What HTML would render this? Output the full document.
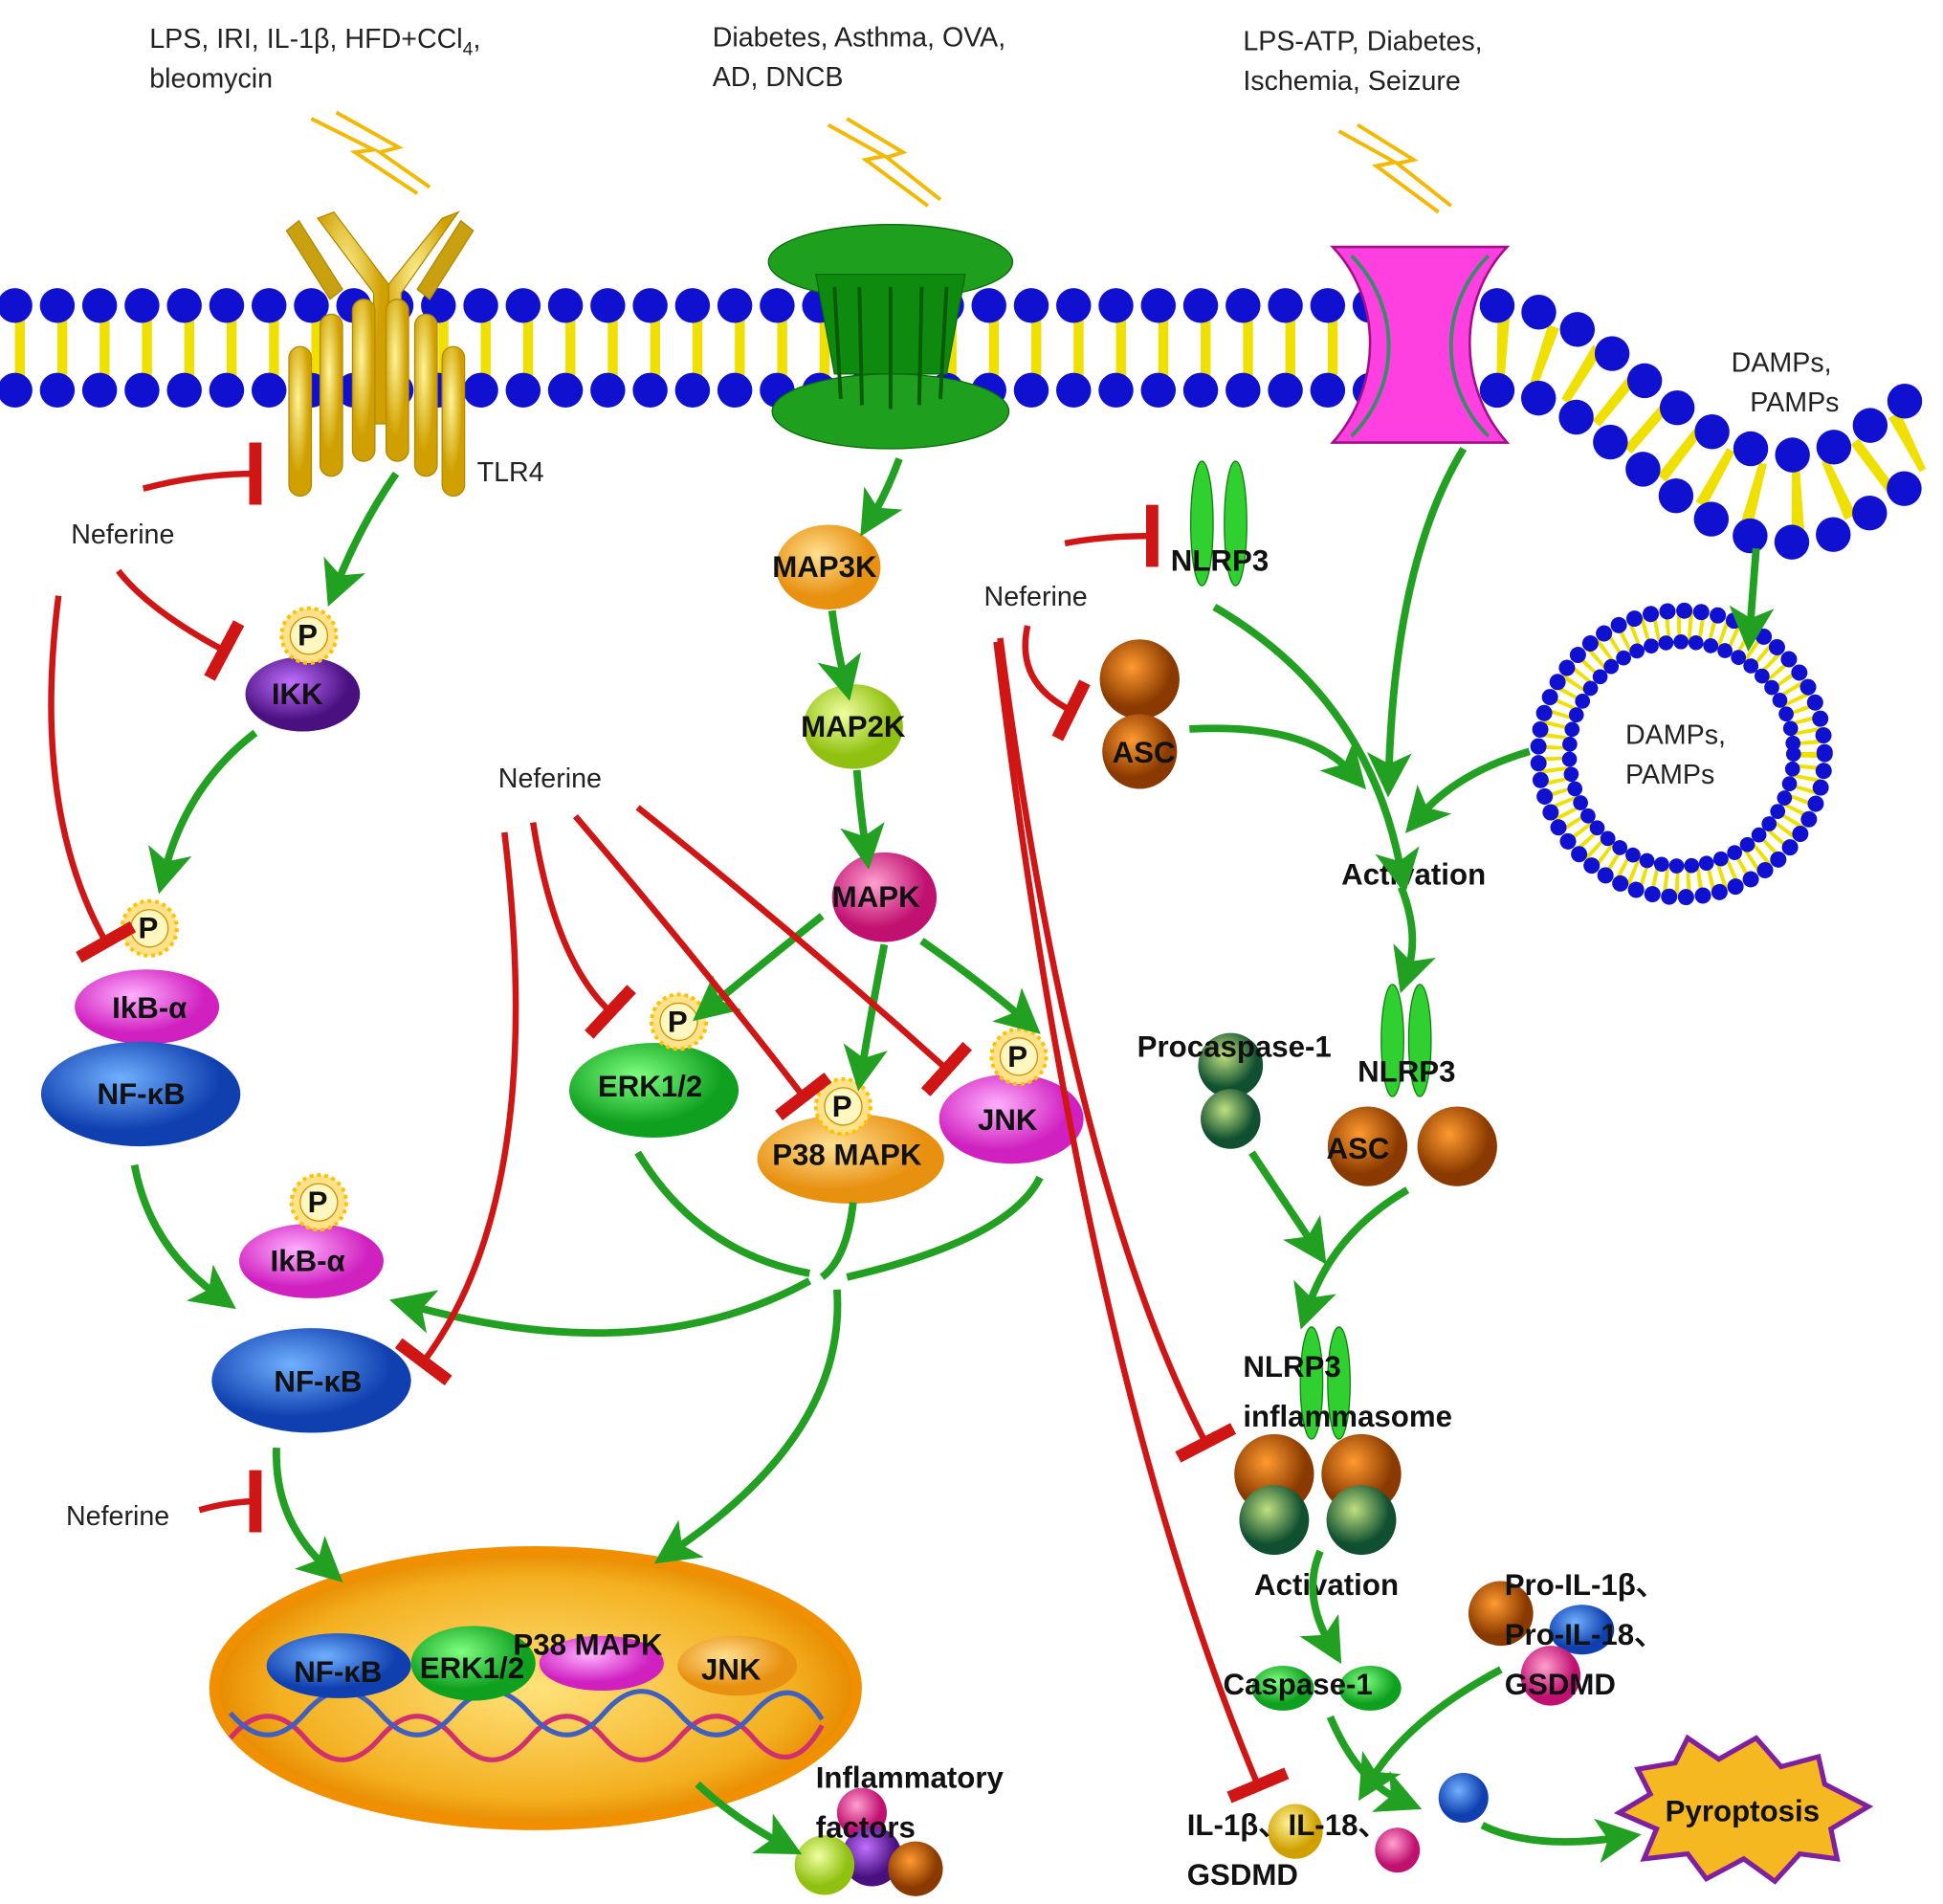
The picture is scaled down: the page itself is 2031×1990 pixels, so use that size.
<!DOCTYPE html>
<html><head><meta charset="utf-8"><style>
html,body{margin:0;padding:0;background:#fff;}
svg{display:block;}
text{font-family:"Liberation Sans",sans-serif;}
.l{font-size:22px;fill:#222;}
.b{font-size:24px;font-weight:bold;fill:#111;}
.g{stroke:#22a022;stroke-width:6;fill:none;marker-end:url(#ah);}
.r{stroke:#d01515;stroke-width:5;fill:none;marker-end:url(#tb);}
</style></head><body>
<svg width="2031" height="1990" viewBox="0 0 1560 1528" xmlns="http://www.w3.org/2000/svg">
<defs>
<marker id="ah" markerWidth="6" markerHeight="6" refX="3" refY="3" orient="auto" markerUnits="strokeWidth"><path d="M0,0 L6,3 L0,6 L1.5,3z" fill="#22a022"/></marker>
<marker id="tb" markerWidth="2" markerHeight="10" refX="1" refY="5" orient="auto" markerUnits="strokeWidth"><rect x="0" y="0" width="2" height="10" fill="#d01515"/></marker>
<radialGradient id="gy" cx="40%" cy="35%"><stop offset="0" stop-color="#fff59a"/><stop offset="1" stop-color="#d0a000"/></radialGradient>
<radialGradient id="gg" cx="40%" cy="35%"><stop offset="0" stop-color="#80ff80"/><stop offset="1" stop-color="#10a020"/></radialGradient>
<radialGradient id="gp" cx="40%" cy="35%"><stop offset="0" stop-color="#ffb0ff"/><stop offset="1" stop-color="#d020c0"/></radialGradient>
<radialGradient id="gb" cx="40%" cy="35%"><stop offset="0" stop-color="#70b0ff"/><stop offset="1" stop-color="#1040b0"/></radialGradient>
<radialGradient id="go" cx="40%" cy="35%"><stop offset="0" stop-color="#ffe090"/><stop offset="1" stop-color="#e89010"/></radialGradient>
<radialGradient id="gpu" cx="40%" cy="35%"><stop offset="0" stop-color="#c070ff"/><stop offset="1" stop-color="#4a1080"/></radialGradient>
<radialGradient id="gl" cx="40%" cy="35%"><stop offset="0" stop-color="#f0ffa0"/><stop offset="1" stop-color="#90c010"/></radialGradient>
<radialGradient id="gm" cx="40%" cy="35%"><stop offset="0" stop-color="#ffa0d0"/><stop offset="1" stop-color="#c01070"/></radialGradient>
<radialGradient id="gbr" cx="40%" cy="35%"><stop offset="0" stop-color="#ff9a30"/><stop offset="1" stop-color="#8a3a00"/></radialGradient>
<radialGradient id="gdg" cx="40%" cy="35%"><stop offset="0" stop-color="#c0e080"/><stop offset="1" stop-color="#105030"/></radialGradient>
<radialGradient id="gnuc" cx="50%" cy="50%"><stop offset="0" stop-color="#ffe27a"/><stop offset="0.8" stop-color="#f3b020"/><stop offset="1" stop-color="#e88a00"/></radialGradient>
</defs>

<!-- membrane -->
<g fill="none">
<path d="M12,279 L1200,279 C1300,279 1340,400 1440,400 C1490,400 1510,360 1545,350" stroke="#f0e000" stroke-width="50" stroke-dasharray="8 26"/>
<path d="M12,245 L1200,245 C1300,245 1340,365 1440,365 C1490,365 1510,325 1545,315" stroke="#1010d0" stroke-width="28" stroke-linecap="round" stroke-dasharray="0 34"/>
<path d="M12,313 L1200,313 C1290,313 1340,435 1440,435 C1490,435 1510,395 1545,385" stroke="#1010d0" stroke-width="28" stroke-linecap="round" stroke-dasharray="0 34"/>
</g>

<!-- lightning -->
<g stroke="#f5b800" stroke-width="3" fill="none">
<path d="M250,95 L300,120 L285,122 L335,155"/><path d="M270,90 L320,118 L305,122 L345,150"/>
<path d="M665,100 L710,125 L695,128 L745,165"/><path d="M680,95 L725,122 L712,126 L755,160"/>
<path d="M1075,105 L1120,130 L1105,133 L1155,170"/><path d="M1090,100 L1135,128 L1122,131 L1165,165"/>
</g>

<!-- top texts -->
<text class="l" x="120" y="38">LPS, IRI, IL-1β, HFD+CCl<tspan font-size="15" dy="6">4</tspan><tspan dy="-6">,</tspan></text>
<text class="l" x="120" y="70">bleomycin</text>
<text class="l" x="572" y="37">Diabetes, Asthma, OVA,</text>
<text class="l" x="572" y="69">AD, DNCB</text>
<text class="l" x="998" y="40">LPS-ATP, Diabetes,</text>
<text class="l" x="998" y="72">Ischemia, Seizure</text>
<text class="l" x="1390" y="298">DAMPs,</text>
<text class="l" x="1405" y="330">PAMPs</text>

<!-- TLR4 -->
<g stroke="#b08a00" stroke-width="1" fill="url(#gy)">
<path d="M230,185 L265,240 L275,232 L240,177z" fill="#c8a010"/>
<path d="M380,185 L345,240 L335,232 L370,177z" fill="#c8a010"/>
<path d="M255,175 L300,235 L300,340 L312,340 L312,228 L268,170z"/>
<path d="M355,175 L312,228 L312,340 L322,340 L322,235 L368,170z"/>
<rect x="232" y="278" width="18" height="120" rx="9"/>
<rect x="257" y="252" width="18" height="130" rx="9"/>
<rect x="283" y="240" width="18" height="130" rx="9"/>
<rect x="310" y="240" width="18" height="130" rx="9"/>
<rect x="333" y="252" width="18" height="130" rx="9"/>
<rect x="355" y="278" width="18" height="120" rx="9"/>
</g>
<text class="l" x="383" y="386">TLR4</text>

<!-- green channel -->
<g fill="#1ea01e" stroke="#0a6a0a" stroke-width="1">
<ellipse cx="715" cy="210" rx="98" ry="30"/>
<path d="M655,220 L775,220 L760,300 L670,300z" fill="#0e8a0e"/>
<ellipse cx="715" cy="330" rx="95" ry="30"/>
<g stroke="#085a08" stroke-width="3"><line x1="670" y1="230" x2="675" y2="320"/><line x1="690" y1="230" x2="692" y2="325"/><line x1="715" y1="230" x2="715" y2="328"/><line x1="740" y1="230" x2="738" y2="325"/><line x1="760" y1="230" x2="755" y2="320"/></g>
</g>

<!-- pink channel -->
<g fill="#ff40e0" stroke="#a0108a" stroke-width="2">
<path d="M1070,198 L1210,198 C1170,240 1170,310 1210,355 L1070,355 C1110,310 1110,240 1070,198z"/>
</g>
<path d="M1085,205 C1125,245 1125,310 1085,350 M1195,205 C1155,245 1155,310 1195,350" stroke="#3a8a6a" stroke-width="3" fill="none"/>

<!-- vesicle -->
<circle cx="1350" cy="605" r="102" fill="none" stroke="#f0e000" stroke-width="24" stroke-dasharray="3 6"/>
<circle cx="1350" cy="605" r="115" fill="none" stroke="#1010d0" stroke-width="13" stroke-dasharray="0.1 13.5" stroke-linecap="round"/>
<circle cx="1350" cy="605" r="90" fill="none" stroke="#1010d0" stroke-width="12" stroke-dasharray="0.1 12" stroke-linecap="round"/>
<text class="l" x="1305" y="597">DAMPs,</text>
<text class="l" x="1305" y="629">PAMPs</text>

<!-- nucleus -->
<ellipse cx="430" cy="1355" rx="258" ry="110" fill="url(#gnuc)" stroke="#f09000" stroke-width="8"/>
<g fill="none" stroke-width="4">
<path d="M185,1395 Q215,1360 245,1395 T305,1395 T365,1395 T425,1395 T485,1395 T545,1395 T605,1395 T660,1385" stroke="#d03070"/>
<path d="M185,1375 Q215,1410 245,1375 T305,1375 T365,1375 T425,1375 T485,1375 T545,1375 T605,1375 T660,1380" stroke="#4060c0"/>
</g>
<ellipse cx="272" cy="1337" rx="58" ry="26" fill="url(#gb)"/>
<ellipse cx="380" cy="1335" rx="50" ry="30" fill="url(#gg)"/>
<ellipse cx="483" cy="1335" rx="50" ry="22" fill="url(#gp)"/>
<ellipse cx="592" cy="1337" rx="48" ry="24" fill="url(#go)"/>
<text class="b" x="236" y="1350">NF-κB</text>
<text class="b" x="337" y="1347">ERK1/2</text>
<text class="b" x="412" y="1328">P38 MAPK</text>
<text class="b" x="563" y="1348">JNK</text>

<!-- left pathway nodes -->
<ellipse cx="243" cy="557" rx="46" ry="30" fill="url(#gpu)"/><text class="b" x="218" y="565">IKK</text>
<ellipse cx="118" cy="808" rx="58" ry="30" fill="url(#gp)"/><text class="b" x="90" y="817">IkB-α</text>
<ellipse cx="113" cy="878" rx="80" ry="42" fill="url(#gb)"/><text class="b" x="78" y="886">NF-κB</text>
<ellipse cx="250" cy="1012" rx="58" ry="30" fill="url(#gp)"/><text class="b" x="217" y="1020">IkB-α</text>
<ellipse cx="250" cy="1108" rx="80" ry="42" fill="url(#gb)"/><text class="b" x="220" y="1117">NF-κB</text>

<!-- middle -->
<ellipse cx="665" cy="455" rx="42" ry="34" fill="url(#go)"/><text class="b" x="620" y="463">MAP3K</text>
<ellipse cx="685" cy="583" rx="40" ry="34" fill="url(#gl)"/><text class="b" x="643" y="591">MAP2K</text>
<ellipse cx="710" cy="720" rx="42" ry="36" fill="url(#gm)"/><text class="b" x="668" y="728">MAPK</text>
<ellipse cx="525" cy="875" rx="68" ry="38" fill="url(#gg)"/><text class="b" x="480" y="880">ERK1/2</text>
<ellipse cx="683" cy="930" rx="75" ry="36" fill="url(#go)"/><text class="b" x="620" y="935">P38 MAPK</text>
<ellipse cx="812" cy="898" rx="58" ry="36" fill="url(#gp)"/><text class="b" x="785" y="907">JNK</text>

<!-- P badges -->
<g>
<g transform="translate(248,510)"><circle r="22" fill="#ffe28a" stroke="#ffc000" stroke-width="3" stroke-dasharray="3 3"/><circle r="15" fill="#fff7c0" stroke="#d09000"/><text class="b" x="-9" y="8">P</text></g>
<g transform="translate(120,745)"><circle r="22" fill="#ffe28a" stroke="#ffc000" stroke-width="3" stroke-dasharray="3 3"/><circle r="15" fill="#fff7c0" stroke="#d09000"/><text class="b" x="-9" y="8">P</text></g>
<g transform="translate(256,965)"><circle r="22" fill="#ffe28a" stroke="#ffc000" stroke-width="3" stroke-dasharray="3 3"/><circle r="15" fill="#fff7c0" stroke="#d09000"/><text class="b" x="-9" y="8">P</text></g>
<g transform="translate(545,820)"><circle r="22" fill="#ffe28a" stroke="#ffc000" stroke-width="3" stroke-dasharray="3 3"/><circle r="15" fill="#fff7c0" stroke="#d09000"/><text class="b" x="-9" y="8">P</text></g>
<g transform="translate(677,888)"><circle r="22" fill="#ffe28a" stroke="#ffc000" stroke-width="3" stroke-dasharray="3 3"/><circle r="15" fill="#fff7c0" stroke="#d09000"/><text class="b" x="-9" y="8">P</text></g>
<g transform="translate(818,848)"><circle r="22" fill="#ffe28a" stroke="#ffc000" stroke-width="3" stroke-dasharray="3 3"/><circle r="15" fill="#fff7c0" stroke="#d09000"/><text class="b" x="-9" y="8">P</text></g>
</g>

<!-- right side: NLRP3 etc -->
<g fill="#30d030" stroke="#108010" stroke-width="1">
<ellipse cx="965" cy="420" rx="9" ry="50"/><ellipse cx="992" cy="420" rx="9" ry="50"/>
<ellipse cx="1118" cy="835" rx="9" ry="45"/><ellipse cx="1140" cy="835" rx="9" ry="45"/>
<ellipse cx="1053" cy="1110" rx="9" ry="45"/><ellipse cx="1075" cy="1110" rx="9" ry="45"/>
</g>
<text class="b" x="940" y="458">NLRP3</text>
<circle cx="915" cy="545" r="32" fill="url(#gbr)"/><circle cx="915" cy="603" r="30" fill="url(#gbr)"/>
<text class="b" x="893" y="612">ASC</text>
<text class="b" x="1077" y="710">Activation</text>
<circle cx="988" cy="855" r="26" fill="url(#gdg)"/><circle cx="988" cy="898" r="24" fill="url(#gdg)"/>
<text class="b" x="913" y="848">Procaspase-1</text>
<text class="b" x="1090" y="868">NLRP3</text>
<circle cx="1098" cy="920" r="32" fill="url(#gbr)"/><circle cx="1170" cy="920" r="32" fill="url(#gbr)"/>
<text class="b" x="1065" y="930">ASC</text>
<circle cx="1023" cy="1183" r="32" fill="url(#gbr)"/><circle cx="1093" cy="1183" r="32" fill="url(#gbr)"/>
<circle cx="1023" cy="1220" r="28" fill="url(#gdg)"/><circle cx="1093" cy="1220" r="28" fill="url(#gdg)"/>
<text class="b" x="998" y="1105">NLRP3</text>
<text class="b" x="998" y="1145">inflammasome</text>
<text class="b" x="1007" y="1280">Activation</text>
<ellipse cx="1030" cy="1355" rx="25" ry="18" fill="url(#gg)"/><ellipse cx="1100" cy="1355" rx="25" ry="18" fill="url(#gg)"/>
<text class="b" x="982" y="1360">Caspase-1</text>
<circle cx="1205" cy="1295" r="26" fill="url(#gbr)"/><ellipse cx="1270" cy="1308" rx="26" ry="20" fill="url(#gb)"/><circle cx="1245" cy="1345" r="24" fill="url(#gm)"/>
<text class="b" x="1208" y="1280">Pro-IL-1β、</text>
<text class="b" x="1208" y="1320">Pro-IL-18、</text>
<text class="b" x="1208" y="1360">GSDMD</text>
<circle cx="1040" cy="1470" r="22" fill="url(#gy)"/><circle cx="1122" cy="1485" r="18" fill="url(#gm)"/><circle cx="1175" cy="1443" r="20" fill="url(#gb)"/>
<text class="b" x="953" y="1473">IL-1β、IL-18、</text>
<text class="b" x="953" y="1513">GSDMD</text>
<!-- inflammatory factors -->
<circle cx="692" cy="1455" r="20" fill="url(#gm)"/><circle cx="700" cy="1490" r="24" fill="url(#gpu)"/><circle cx="735" cy="1500" r="22" fill="url(#gbr)"/><circle cx="662" cy="1497" r="24" fill="url(#gl)"/>
<text class="b" x="655" y="1435">Inflammatory</text>
<text class="b" x="655" y="1475">factors</text>
<!-- pyroptosis -->
<polygon points="1315,1420 1345,1415 1355,1395 1380,1412 1410,1395 1430,1418 1460,1410 1465,1432 1500,1450 1470,1468 1475,1492 1445,1488 1425,1510 1400,1492 1370,1508 1355,1488 1320,1492 1330,1468 1300,1455 1325,1440" fill="#f5b820" stroke="#8020a0" stroke-width="4"/>
<text class="b" x="1337" y="1462">Pyroptosis</text>

<!-- Neferine labels -->
<text class="l" x="57" y="436">Neferine</text>
<text class="l" x="400" y="632">Neferine</text>
<text class="l" x="790" y="486">Neferine</text>
<text class="l" x="53" y="1224">Neferine</text>

<!-- green arrows -->
<path class="g" d="M318,380 Q290,420 270,470"/>
<path class="g" d="M205,588 Q150,630 132,700"/>
<path class="g" d="M108,935 Q120,1000 175,1040"/>
<path class="g" d="M722,368 Q712,395 700,415"/>
<path class="g" d="M668,490 Q672,520 678,545"/>
<path class="g" d="M688,618 Q690,645 695,680"/>
<path class="g" d="M660,735 Q610,775 570,808"/>
<path class="g" d="M710,758 Q700,810 692,858"/>
<path class="g" d="M740,755 Q790,790 822,818"/>
<path d="M512,925 Q560,1005 650,1022 M685,965 Q680,1010 660,1025 M835,945 Q810,995 680,1025" stroke="#22a022" stroke-width="6" fill="none"/>
<path class="g" d="M650,1028 Q520,1100 330,1048"/>
<path class="g" d="M672,1035 Q680,1150 540,1245"/>
<path class="g" d="M222,1162 Q220,1220 262,1258"/>
<path class="g" d="M560,1432 Q590,1460 628,1480"/>
<path class="g" d="M975,487 Q1100,560 1125,700"/>
<path class="g" d="M955,585 Q1050,580 1085,620"/>
<path class="g" d="M1175,360 Q1120,450 1115,622"/>
<path class="g" d="M1228,603 Q1170,620 1140,655"/>
<path class="g" d="M1410,440 L1405,505"/>
<path class="g" d="M1125,712 Q1140,750 1130,780"/>
<path class="g" d="M1005,925 Q1035,970 1055,1000"/>
<path class="g" d="M1130,955 Q1070,990 1050,1050"/>
<path class="g" d="M1060,1245 Q1045,1280 1068,1320"/>
<path class="g" d="M1068,1378 Q1090,1430 1125,1445"/>
<path class="g" d="M1205,1340 Q1130,1380 1100,1430"/>
<path class="g" d="M1190,1465 Q1230,1485 1300,1475"/>

<!-- red inhibitors -->
<path class="r" d="M115,392 Q160,380 205,380"/>
<path class="r" d="M95,458 Q120,490 180,522"/>
<path class="r" d="M47,478 Q25,650 85,756"/>
<path class="r" d="M428,660 Q445,770 490,812"/>
<path class="r" d="M462,655 Q560,770 645,880"/>
<path class="r" d="M512,648 Q640,750 760,858"/>
<path class="r" d="M405,668 Q440,960 340,1093"/>
<path class="r" d="M160,1212 Q185,1205 205,1205"/>
<path class="r" d="M855,436 Q885,430 925,430"/>
<path class="r" d="M825,502 Q815,548 860,570"/>
<path class="r" d="M803,512 Q860,950 968,1158"/>
<path class="r" d="M800,515 Q870,1100 1010,1433"/>
</svg>
</body></html>
